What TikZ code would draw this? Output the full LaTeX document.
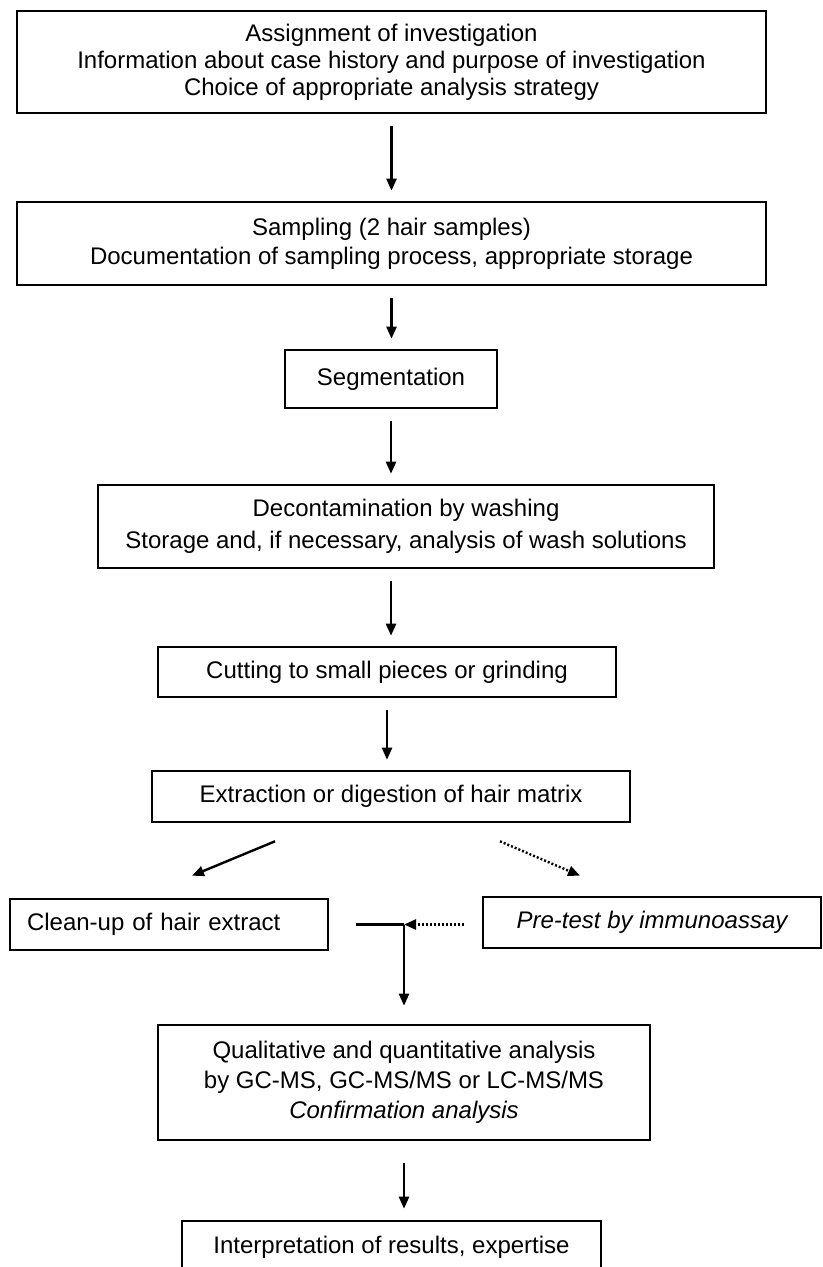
\documentclass[tikz,border=0pt]{standalone}
\usepackage{fontspec}
\setmainfont{Liberation Sans}
\usetikzlibrary{
        arrows.meta,
        calc
    }
\tikzset{>={Triangle[length=6pt,width=5pt]}}
\tikzset{box/.style={draw,line width=1.3pt,align=center,inner sep=2pt,
        font=\fontsize{12}{14.5}\selectfont}}
\tikzset{flow/.style={->,line width=1.2pt,shorten <=6pt,shorten >=5pt}}
\tikzset{dots/.style={dash pattern=on 1pt off 1pt}}

\begin{document}
\begin{tikzpicture}[x=0.5pt,y=-0.5pt]
                \useasboundingbox (0,0) rectangle (823,1267);
                % steps of the analysis
                \node[box,minimum width=374.5pt,minimum height=51pt,font=\fontsize{12}{13.5}\selectfont] (assign) at (391.5,62)
                    {Assignment of investigation\\Information about case history and purpose of investigation\\Choice of appropriate analysis strategy};
                \node[box,minimum width=374.5pt,minimum height=41.5pt] (sampling) at (391.5,243.5)
                    {Sampling (2 hair samples)\\Documentation of sampling process, appropriate storage};
                \node[box,minimum width=106pt,minimum height=29pt] (segm) at (391,379) {Segmentation};
                \node[box,minimum width=308pt,minimum height=41.5pt,font=\fontsize{12}{16}\selectfont] (decon) at (406,526.5)
                    {Decontamination by washing\\Storage and, if necessary, analysis of wash solutions};
                \node[box,minimum width=229pt,minimum height=25pt] (cut) at (387,672) {Cutting to small pieces or grinding};
                \node[box,minimum width=239pt,minimum height=25.5pt] (ext) at (391,796.5) {Extraction or digestion of hair matrix};
                \node[box,text width=142pt,align=left,inner xsep=8.5pt,minimum height=25.5pt] (clean) at (169,924.5) {Clean-up of hair extract};
                \node[box,minimum width=169pt,minimum height=25.5pt,font=\fontsize{12}{14.5}\selectfont\itshape] (pre) at (652,922.5) {Pre-test by immunoassay};
                \node[box,minimum width=246pt,minimum height=57.5pt,font=\fontsize{12}{15}\selectfont] (qual) at (404,1082.5)
                    {Qualitative and quantitative analysis\\by GC-MS, GC-MS/MS or LC-MS/MS\\\textit{Confirmation analysis}};
                \node[box,minimum width=209.5pt,minimum height=26pt] (interp) at (391.5,1247) {Interpretation of results, expertise};
                % connectors
                \draw[flow] (assign.south) -- (assign.south |- sampling.north);
                \draw[flow] (sampling.south) -- (sampling.south |- segm.north);
                \draw[flow] (segm.south) -- (segm.south |- decon.north);
                \draw[flow] (segm.south |- decon.south) -- (segm.south |- cut.north);
                \draw[flow] (cut.south) -- (cut.south |- ext.north);
                \draw[flow,shorten <=0pt,shorten >=0pt] ([shift={(-116,18)}]ext.south) -- ([shift={(23,-22)}]clean.north);
                \draw[flow,dots,shorten <=0pt,shorten >=0pt] ([shift={(109,18)}]ext.south) -- ([shift={(-72,-20)}]pre.north);
                \coordinate (jn) at (qual.north |- clean.east);
                \draw[line width=1.2pt,shorten <=13.5pt] (clean.east) -- (jn);
                \draw[flow,dots,shorten <=9pt,shorten >=0pt] (pre.west |- jn) -- (jn);
                \draw[flow,shorten <=0pt,shorten >=9pt] (jn) -- (qual.north);
                \draw[flow,shorten <=11pt,shorten >=5.5pt] (qual.south) -- (qual.south |- interp.north);
            \end{tikzpicture}
\end{document}
